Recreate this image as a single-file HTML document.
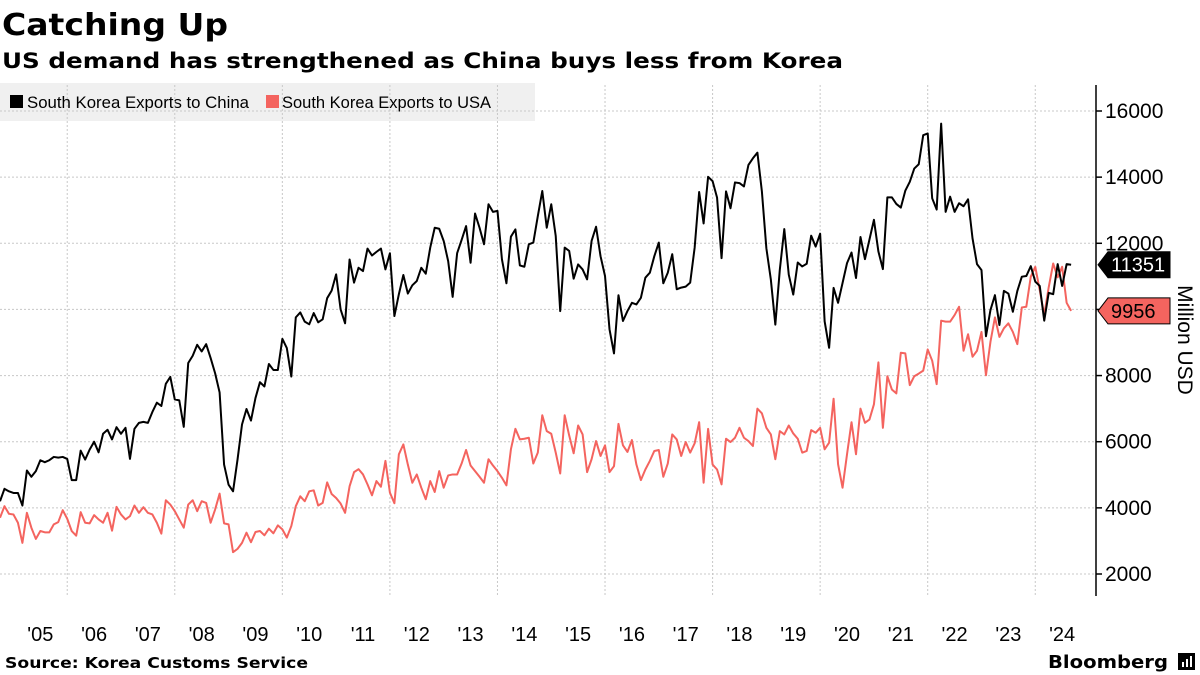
<!DOCTYPE html>
<html><head><meta charset="utf-8"><style>
html,body{margin:0;padding:0;background:#fff;}
svg{display:block;}
</style></head><body>
<svg id="chart" width="1200" height="675" xmlns="http://www.w3.org/2000/svg">
<text x="2" y="35" font-family="DejaVu Sans, sans-serif" font-weight="bold" font-size="30" textLength="226" lengthAdjust="spacingAndGlyphs">Catching Up</text>
<text x="2" y="68" font-family="DejaVu Sans, sans-serif" font-weight="bold" font-size="21" textLength="841" lengthAdjust="spacingAndGlyphs">US demand has strengthened as China buys less from Korea</text>
<g>
<rect x="0" y="83" width="535" height="38" fill="#f0f0f0"/>
<g>
<rect x="10" y="95" width="13" height="13" fill="#000"/>
<text x="27" y="108" font-family="Liberation Sans, sans-serif" font-size="17" textLength="222" lengthAdjust="spacingAndGlyphs">South Korea Exports to China</text>
</g>
<g>
<rect x="266" y="95" width="13" height="13" fill="#f4645f"/>
<text x="282" y="108" font-family="Liberation Sans, sans-serif" font-size="17" textLength="209" lengthAdjust="spacingAndGlyphs">South Korea Exports to USA</text>
</g>
</g>
<g id="grid"></g>
<g id="yaxis"></g>
<g id="xaxis"></g>
<g id="series"></g>
<g id="tags"></g>
<text transform="translate(1178,340) rotate(90)" text-anchor="middle" font-family="Liberation Sans, sans-serif" font-size="21">Million USD</text>
<text x="5" y="668" font-family="DejaVu Sans, sans-serif" font-weight="bold" font-size="15" textLength="303" lengthAdjust="spacingAndGlyphs">Source: Korea Customs Service</text>
<g>
<text x="1048" y="668" font-family="DejaVu Sans, sans-serif" font-weight="bold" font-size="18" textLength="120" lengthAdjust="spacingAndGlyphs">Bloomberg</text>
<rect x="1178" y="653" width="17" height="17" fill="#000"/>
<rect x="1182" y="662" width="2" height="5" fill="#fff"/>
<rect x="1186" y="659" width="2" height="8" fill="#fff"/>
<rect x="1190" y="656" width="2" height="11" fill="#fff"/>
</g>
</svg>
<script>
const startYear = 2004;
const startMonth = 9; // Oct 2004 (0-based month)
const chinaValues = [4200,4575,4500,4450,4450,4070,5130,4940,5110,5440,5380,5440,5540,5520,5540,5480,4840,4840,5730,5460,5760,6000,5680,6240,6360,6070,6440,6240,6420,5480,6390,6570,6600,6570,6900,7180,7080,7750,7960,7280,7250,6450,8380,8600,8930,8730,8950,8530,8070,7490,5310,4700,4500,5460,6520,6990,6640,7320,7800,7670,8350,8170,8170,9110,8830,7970,9760,9910,9630,9550,9890,9610,9700,10340,10570,11060,10000,9580,11510,10810,11260,11160,11840,11630,11740,11840,11210,11700,9800,10460,11040,10480,10730,10860,11260,11080,11870,12470,12440,12070,11460,10380,11700,12100,12520,11410,12900,12470,11970,13180,12950,12980,11510,10790,12200,12420,11330,11290,11970,12020,12820,13580,12470,13180,12220,9950,11870,11770,10930,11360,11210,10910,12070,12500,11610,11010,9400,8670,10430,9650,9950,10200,10150,10350,10960,11110,11610,12020,10790,11110,11670,10610,10660,10690,10810,11870,13550,12600,14010,13880,13380,11550,13570,13060,13840,13820,13720,14370,14570,14740,13570,11850,10900,9540,11200,12430,11050,10450,11420,11300,11380,12230,11900,12290,9640,8840,10650,10200,10800,11400,11720,10950,12190,11520,12110,12710,11750,11220,13390,13390,13190,13080,13590,13860,14260,14390,15270,15320,13360,13020,15620,12950,13410,12950,13210,13120,13330,12150,11370,11190,9190,9980,10430,9530,10560,10480,9930,10560,10990,11010,11310,10840,10710,9660,10500,10460,11370,10710,11370,11351];
const usaValues = [3700,4050,3820,3800,3550,2940,3850,3400,3060,3300,3260,3260,3500,3570,3930,3670,3300,3160,3870,3550,3530,3780,3650,3550,3850,3310,4030,3800,3650,3750,4070,3850,4020,3850,3800,3550,3220,4230,4100,3900,3650,3400,4100,4230,3900,4200,4150,3550,3950,4430,3530,3500,2660,2760,2940,3250,2960,3270,3300,3170,3370,3230,3470,3350,3100,3450,4050,4350,4200,4500,4530,4070,4150,4770,4420,4300,4130,3850,4650,5080,5170,5010,4710,4380,4810,4640,5420,4460,4140,5620,5920,5310,4760,5010,4610,4260,4810,4480,5110,4610,4980,5010,5010,5340,5750,5280,5110,4940,4760,5470,5280,5110,4910,4680,5770,6390,6070,6090,6120,5340,5670,6800,6320,6240,5670,5040,6800,6190,5650,6490,6220,5080,5470,6020,5570,5890,5080,5260,6540,5890,5690,6050,5310,4840,5160,5420,5720,5750,4940,5340,6220,6070,5570,5990,5670,5950,6590,4760,6390,5310,5160,4710,6090,5990,6120,6420,6120,6020,5870,7000,6860,6420,6220,5470,6320,6220,6490,6250,6090,5670,5720,6350,6270,6420,5770,5970,7300,5320,4610,5620,6590,5620,7000,6570,6670,7130,8400,6420,7980,7580,7460,8690,8670,7710,7980,8060,8150,8790,8450,7740,9660,9630,9630,9830,10080,8750,9250,8570,8750,9320,8010,9020,9760,9170,9430,9580,9320,8950,10060,10080,10990,11290,10580,9830,10670,11390,10970,11290,10200,9956];
const yTicks = [2000,4000,6000,8000,10000,12000,14000,16000];
const xTickLabels = ["'05","'06","'07","'08","'09","'10","'11","'12","'13","'14","'15","'16","'17","'18","'19","'20","'21","'22","'23","'24"];
const xTickYears = [2005,2006,2007,2008,2009,2010,2011,2012,2013,2014,2015,2016,2017,2018,2019,2020,2021,2022,2023,2024];
const gridYears = [2006,2008,2010,2012,2014,2016,2018,2020,2022,2024];

const NS = "http://www.w3.org/2000/svg";
const X0 = 2004.75, PXY = 53.78;
function xScale(t){ return (t - X0) * PXY; }
function yScale(v){ return 574 - (v - 2000) * (463 / 14000); }
function monthT(i){ return startYear + (startMonth + i) / 12; }
function mk(tag, attrs, parent){ const e = document.createElementNS(NS, tag); for (const k in attrs) e.setAttribute(k, attrs[k]); parent.appendChild(e); return e; }

const grid = document.getElementById('grid');
yTicks.forEach(v => {
  const l = mk('line', {x1:0, x2:1096, y1:yScale(v), y2:yScale(v), stroke:'#c8c8c8', 'stroke-width':1, 'stroke-dasharray':'2,2'}, grid);
  
  
});
gridYears.forEach(y => {
  const l = mk('line', {x1:xScale(y), x2:xScale(y), y1:85, y2:596, stroke:'#c8c8c8', 'stroke-width':1, 'stroke-dasharray':'2,2'}, grid);
  
  
});

const yaxis = document.getElementById('yaxis');
mk('line', {x1:1096, x2:1096, y1:85, y2:596, stroke:'#000', 'stroke-width':1.5}, yaxis);
yTicks.forEach(v => {
  mk('line', {x1:1096, x2:1102, y1:yScale(v), y2:yScale(v), stroke:'#000', 'stroke-width':1.5}, yaxis);
  const t = mk('text', {x:1105, y:yScale(v) + 7, 'font-family':'Liberation Sans, sans-serif', 'font-size':21}, yaxis);
  t.textContent = v;
  
  
});

const xaxis = document.getElementById('xaxis');
xTickYears.forEach((y, i) => {
  const t = mk('text', {x:xScale(y + 0.5), y:641, 'text-anchor':'middle', 'font-family':'Liberation Sans, sans-serif', 'font-size':20}, xaxis);
  t.textContent = xTickLabels[i];
  
  
});

const series = document.getElementById('series');
function drawLine(vals, color, name){
  const d = vals.map((v, i) => (i ? 'L' : 'M') + xScale(monthT(i)).toFixed(2) + ',' + yScale(v).toFixed(2)).join('');
  const p = mk('path', {d:d, fill:'none', stroke:color, 'stroke-width':2, 'stroke-linejoin':'round'}, series);
  
  
}
drawLine(usaValues, '#f4645f', 'usa-exports-line');
drawLine(chinaValues, '#000000', 'china-exports-line');

const tags = document.getElementById('tags');
function tag(v, bg, fg, name){
  const y = yScale(v);
  const g = mk('g', {}, tags);
  
  
  mk('path', {d:`M1098,${y} L1108,${y-13} L1170,${y-13} L1170,${y+13} L1108,${y+13} Z`, fill:bg, stroke:'#000', 'stroke-width':1}, g);
  const t = mk('text', {x:1111, y:y + 7, 'font-family':'Liberation Sans, sans-serif', 'font-size':20, fill:fg}, g);
  t.textContent = v;
}
tag(chinaValues[chinaValues.length - 1], '#000', '#fff', 'china-last-value-tag');
tag(usaValues[usaValues.length - 1], '#f4645f', '#000', 'usa-last-value-tag');
</script>
</body></html>
